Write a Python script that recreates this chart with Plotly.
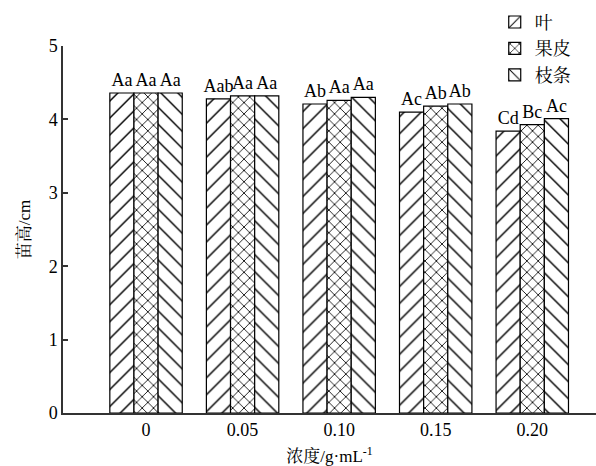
import plotly.graph_objects as go

categories = ["0", "0.05", "0.10", "0.15", "0.20"]
series_names = ["叶", "果皮", "枝条"]
leaf = [4.36, 4.28, 4.21, 4.10, 3.84]
peel = [4.36, 4.32, 4.26, 4.18, 3.93]
branch = [4.36, 4.32, 4.30, 4.21, 4.01]
leaf_labels = ["Aa", "Aab", "Ab", "Ac", "Cd"]
peel_labels = ["Aa", "Aa", "Aa", "Ab", "Bc"]
branch_labels = ["Aa", "Aa", "Aa", "Ab", "Ac"]
y_ticks = [0, 1, 2, 3, 4, 5]

serif = "Liberation Serif, Times New Roman, Noto Serif CJK SC, Noto Sans CJK SC, serif"
xs = list(range(len(categories)))

fig = go.Figure()
specs = [
    (series_names[0], leaf, leaf_labels, "/", 12, 0.12),
    (series_names[1], peel, peel_labels, "x", 8, 0.2),
    (series_names[2], branch, branch_labels, "\\", 12, 0.12),
]
for name, vals, labels, shape, size, sol in specs:
    fig.add_trace(go.Bar(
        x=xs, y=vals, name=name, text=labels,
        textposition="outside", cliponaxis=False, constraintext="none",
        textfont=dict(family=serif, size=18, color="black"),
        marker=dict(color="white",
                    line=dict(color="black", width=1.2),
                    pattern=dict(shape=shape, fgcolor="black", bgcolor="white",
                                 size=size, solidity=sol, fillmode="replace")),
    ))

fig.update_layout(
    template="none",
    width=596, height=466,
    margin=dict(l=63, r=0, t=46, b=53),
    paper_bgcolor="white", plot_bgcolor="white",
    barmode="group", bargap=0.25, bargroupgap=0,
    font=dict(family=serif, size=16, color="black"),
    showlegend=True,
    legend=dict(x=0.81, y=1.115, xanchor="left", yanchor="top",
                font=dict(family=serif, size=18, color="black"), itemwidth=30,
                tracegroupgap=4, bgcolor="rgba(0,0,0,0)"),
)
fig.update_xaxes(
    range=[-0.86, 4.66], tickvals=xs, ticktext=categories,
    showline=True, linecolor="#333", linewidth=1.5, ticks="",
    showgrid=False, zeroline=False,
    tickfont=dict(family=serif, size=18, color="black"),
    title=dict(text="浓度/g·mL<sup>-1</sup>", font=dict(family=serif, size=17, color="black"), standoff=12),
)
fig.update_yaxes(
    range=[0, 5], tickvals=y_ticks,
    showline=True, linecolor="#333", linewidth=1.5,
    ticks="inside", ticklen=5, tickcolor="#333", tickwidth=1.5,
    showgrid=False, zeroline=False,
    tickfont=dict(family=serif, size=18, color="black"),
    title=dict(text="苗高/cm", font=dict(family=serif, size=17, color="black"), standoff=14),
)
fig.write_html("out.html")
